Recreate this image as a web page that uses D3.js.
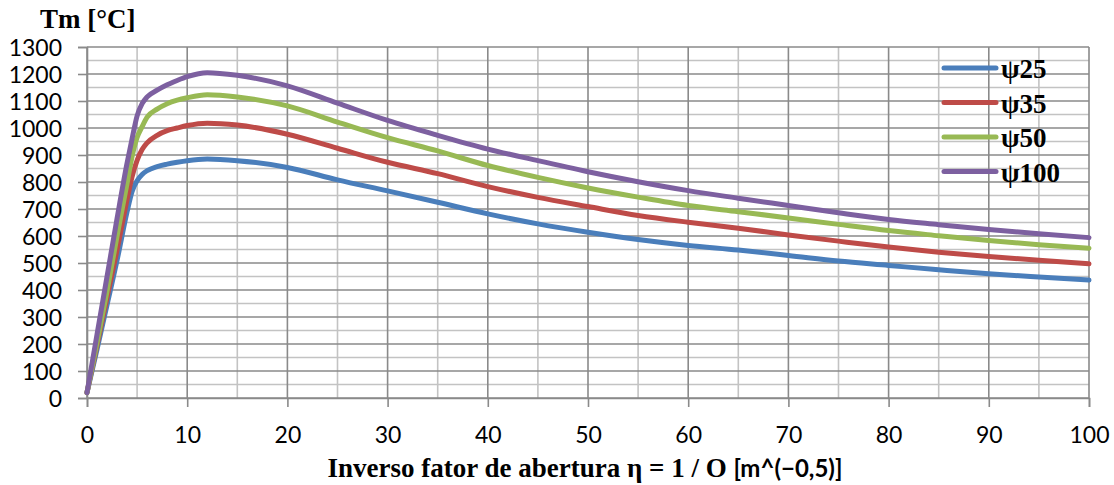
<!DOCTYPE html>
<html><head><meta charset="utf-8">
<script src="https://cdn.jsdelivr.net/npm/d3@7"></script>
<style>body{margin:0;background:#fff;}svg{display:block;}</style>
</head><body><svg id="c" width="1114" height="485"></svg>
<script>
const xValues = [0,1,2,3,4,4.5,5,5.5,6,7,8,9,10,12,15,20,25,30,35,40,45,50,55,60,65,70,75,80,85,90,95,100];
const psi25  = [20,180,345,510,690,765,805,828,842,857,866,873,879,885,879,854,808,767,725,682,645,614,587,565,548,528,507,491,475,460,448,437];
const psi35  = [20,195,372,548,735,820,880,920,945,973,990,1000,1009,1018,1011,977,925,873,831,783,743,709,676,651,629,604,581,559,540,524,510,497];
const psi50  = [20,205,395,600,795,895,965,1005,1040,1070,1090,1103,1112,1123,1115,1082,1022,964,915,861,817,778,744,713,690,667,643,620,601,583,568,555];
const psi100 = [20,235,450,665,870,960,1045,1090,1115,1140,1160,1176,1190,1205,1195,1156,1092,1028,973,922,879,838,801,768,740,713,686,661,642,624,608,594];
const seriesNames = ["ψ25","ψ35","ψ50","ψ100"];
const seriesColors = ["#4A7EBB","#BE4B48","#98B954","#7D60A0"];
const xTicks = [0,10,20,30,40,50,60,70,80,90,100];
const yTicks = [0,100,200,300,400,500,600,700,800,900,1000,1100,1200,1300];
const yTitle = "Tm [°C]";
const xTitleMain = "Inverso fator de abertura η = 1 / O ";
const xTitleUnit = "[m^(−0,5)]";

const svg = d3.select("#c");
const L = 87, R = 1089, T = 47, B = 398;
const x = d3.scaleLinear().domain([0,100]).range([L,R]);
const y = d3.scaleLinear().domain([0,1300]).range([B,T]);

const g = svg.append("g");
// minor grid
d3.range(5,100,10).forEach(v=>{
  g.append("line").attr("x1",x(v)).attr("x2",x(v)).attr("y1",T).attr("y2",B)
   .attr("stroke","#c3c3c3").attr("stroke-width",1.6);
});
d3.range(50,1300,100).forEach(v=>{
  g.append("line").attr("x1",L).attr("x2",R).attr("y1",y(v)).attr("y2",y(v))
   .attr("stroke","#c3c3c3").attr("stroke-width",1.6);
});
// major grid
xTicks.forEach(v=>{
  g.append("line").attr("x1",x(v)).attr("x2",x(v)).attr("y1",T).attr("y2",B)
   .attr("stroke","#8a8a8a").attr("stroke-width",1.6);
});
yTicks.forEach(v=>{
  g.append("line").attr("x1",L).attr("x2",R).attr("y1",y(v)).attr("y2",y(v))
   .attr("stroke","#8a8a8a").attr("stroke-width",1.6);
});

// axes
const font = "Lato, 'Open Sans', sans-serif";
const serif = "'Liberation Serif','Times New Roman',serif";
const yAxis = d3.axisLeft(y).tickValues(yTicks).tickFormat(d3.format("d")).tickSize(9).tickPadding(16);
const ya = svg.append("g").attr("transform",`translate(${L},0)`).call(yAxis);
const xAxis = d3.axisBottom(x).tickValues(xTicks).tickFormat(d3.format("d")).tickSize(9).tickPadding(20);
const xa = svg.append("g").attr("transform",`translate(0,${B})`).call(xAxis);
[ya,xa].forEach(a=>{
  a.select(".domain").attr("stroke","#8a8a8a").attr("stroke-width",1.6);
  a.selectAll(".tick line").attr("stroke","#8a8a8a").attr("stroke-width",1.6);
  a.selectAll(".tick text").attr("fill","#000").style("font-family",font).style("font-size","23px");
});
ya.selectAll(".tick text").attr("dy","0.36em");

// lines
const allSeries = [psi25, psi35, psi50, psi100];
const line = d3.line().x((d,i)=>x(xValues[i])).y(d=>y(d)).curve(d3.curveMonotoneX);
allSeries.forEach((s,k)=>{
  svg.append("path").datum(s).attr("d",line).attr("fill","none")
    .attr("stroke",seriesColors[k]).attr("stroke-width",5).attr("stroke-linecap","round").attr("stroke-linejoin","round");
});

// legend
const legY = [68,102.5,137,171.5];
seriesNames.forEach((n,k)=>{
  svg.append("line").attr("x1",944).attr("x2",996).attr("y1",legY[k]).attr("y2",legY[k])
    .attr("stroke",seriesColors[k]).attr("stroke-width",5).attr("stroke-linecap","round");
  svg.append("text").attr("x",1001).attr("y",legY[k]+10).text(n)
    .style("font-family",serif).style("font-weight","bold").style("font-size","27px");
});

// titles
svg.append("text").attr("x",40).attr("y",28).text(yTitle)
  .style("font-family",serif).style("font-weight","bold").style("font-size","27px");
const xt = svg.append("text").attr("x",585).attr("y",477).attr("text-anchor","middle");
xt.append("tspan").text(xTitleMain).style("font-family",serif).style("font-weight","bold").style("font-size","27px");
xt.append("tspan").text(xTitleUnit).style("font-family",font).style("font-weight","bold").style("font-size","24px");
</script></body></html>
